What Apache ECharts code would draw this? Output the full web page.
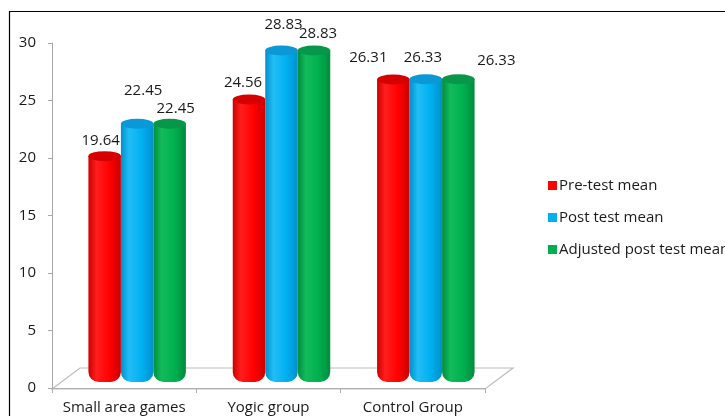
<!DOCTYPE html>
<html>
<head>
<meta charset="utf-8">
<script src="https://cdn.jsdelivr.net/npm/echarts@6/dist/echarts.min.js"></script>
<style>
  html, body { margin: 0; padding: 0; background: #fff; }
  #chart { width: 725px; height: 416px; }
</style>
</head>
<body>
<div id="chart"></div>
<script>
// data
const groups = ['Small area games', 'Yogic group', 'Control Group'];
const seriesNames = ['Pre-test mean', 'Post test mean', 'Adjusted post test mean'];
const preTest = [19.64, 24.56, 26.31];
const postTest = [22.45, 28.83, 26.33];
const adjustedPost = [22.45, 28.83, 26.33];
const yTicks = [0, 5, 10, 15, 20, 25, 30];

// colours for each cylinder: [edge, highlight, body, cap]
const palette = [
  ['#cc0000', '#ff1e1e', '#ff0000', '#d60000'],
  ['#0090cc', '#22bdf6', '#00b0f0', '#0a99d6'],
  ['#008c3e', '#12bb5c', '#00b050', '#07974a']
];

// label nudges [dx, dy] per point, the original labels are placed loosely
const labelNudge = [
  [[-4, -3], [-6, -4], [-25, -9]],
  [[6, -21], [2, -13], [-3, -9]],
  [[6, -3], [4, -4], [38, -6]]
];

const values = [preTest, postTest, adjustedPost];

const chart = echarts.init(document.getElementById('chart'));

function bodyGradient(c) {
  return new echarts.graphic.LinearGradient(0, 0, 1, 0, [
    { offset: 0, color: c[0] },
    { offset: 0.25, color: c[1] },
    { offset: 0.65, color: c[2] },
    { offset: 1, color: c[0] }
  ]);
}

const barSeries = values.map((vals, i) => ({
  name: seriesNames[i],
  type: 'bar',
  xAxisIndex: 1,
  yAxisIndex: 1,
  barWidth: 32.5,
  barGap: '0%',
  z: 2,
  data: vals.map((v, j) => ({
    value: v,
    label: { offset: labelNudge[i][j] }
  })),
  itemStyle: {
    color: bodyGradient(palette[i]),
    borderRadius: [0, 0, 10, 10]
  },
  label: {
    show: true,
    position: 'top',
    distance: 5,
    fontFamily: 'Open Sans',
    fontSize: 15,
    color: '#1a1a1a'
  }
}));

const capSeries = values.map((vals, i) => ({
  name: seriesNames[i],
  type: 'pictorialBar',
  xAxisIndex: 1,
  yAxisIndex: 1,
  barWidth: 32.5,
  barGap: '0%',
  symbol: 'circle',
  symbolSize: [32.5, 10],
  symbolPosition: 'end',
  symbolOffset: [0, '-50%'],
  z: 3,
  data: vals,
  itemStyle: {
    color: palette[i][3]
  }
}));

chart.setOption({
  animation: false,
  backgroundColor: '#fff',
  textStyle: { fontFamily: 'Open Sans' },
  legend: {
    data: seriesNames.map((n, i) => ({ name: n, itemStyle: { color: palette[i][2] } })),
    orient: 'vertical',
    left: 543,
    top: 173,
    icon: 'rect',
    itemWidth: 9,
    itemHeight: 9,
    itemGap: 17,
    textStyle: { fontSize: 15, color: '#1a1a1a', padding: [0, 0, 0, -3] }
  },
  grid: [
    { left: 52, top: 43, width: 433, height: 345 },
    { left: 65, top: 37, width: 433, height: 345 }
  ],
  xAxis: [
    {
      type: 'category',
      gridIndex: 0,
      data: groups,
      axisLine: { lineStyle: { color: '#b0b0b0' } },
      axisTick: { show: true, length: 5, lineStyle: { color: '#b0b0b0' } },
      axisLabel: { interval: 0, fontSize: 15, color: '#1a1a1a', margin: 12 }
    },
    {
      type: 'category',
      gridIndex: 1,
      data: groups,
      show: false
    }
  ],
  yAxis: [
    {
      type: 'value',
      gridIndex: 0,
      min: 0,
      max: 30,
      interval: 5,
      axisLine: { show: true, lineStyle: { color: '#a8a8a8' } },
      axisTick: { show: true, length: 4, lineStyle: { color: '#a8a8a8' } },
      splitLine: { show: false },
      axisLabel: {
        fontSize: 15,
        color: '#1a1a1a',
        margin: 16,
        formatter: v => (yTicks.includes(v) ? String(v) : '')
      }
    },
    {
      type: 'value',
      gridIndex: 1,
      min: 0,
      max: 30,
      show: false
    }
  ],
  graphic: [
    {
      type: 'polygon',
      z: 0,
      shape: { points: [[52, 389], [80, 368], [513, 368], [485, 389]] },
      style: { fill: '#fff', stroke: '#bdbdbd', lineWidth: 1.2 }
    },
    {
      type: 'rect',
      z: 100,
      shape: { x: 9.5, y: 11.5, width: 800, height: 500 },
      style: { fill: 'none', stroke: '#000', lineWidth: 1.2 }
    }
  ],
  series: barSeries.concat(capSeries)
});
</script>
</body>
</html>
